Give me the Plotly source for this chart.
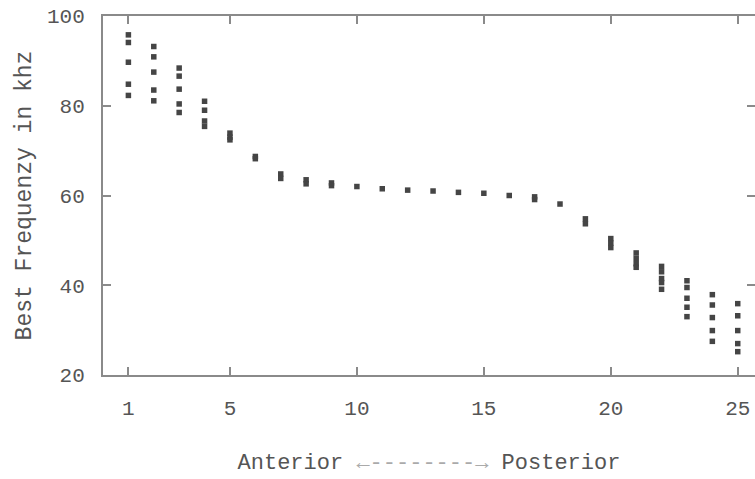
import plotly.graph_objects as go

# Position along the cochlea (anterior -> posterior) and best frequencies (kHz)
positions = list(range(1, 26))
best_freq = [
    [95.8, 94.1, 89.7, 84.8, 82.3],        # 1
    [93.2, 90.9, 87.5, 83.5, 81.1],        # 2
    [88.4, 86.6, 83.7, 80.4, 78.5],        # 3
    [81.0, 79.0, 76.6, 75.4],              # 4
    [73.9, 73.0, 72.4],                    # 5
    [68.7, 68.2],                          # 6
    [64.8, 63.8],                          # 7
    [63.5, 62.6],                          # 8
    [62.8, 62.2],                          # 9
    [62.0],                                # 10
    [61.5],                                # 11
    [61.2],                                # 12
    [61.0],                                # 13
    [60.7],                                # 14
    [60.5],                                # 15
    [60.0],                                # 16
    [59.7, 59.1],                          # 17
    [58.1],                                # 18
    [54.8, 53.7],                          # 19
    [50.4, 49.4, 48.4],                    # 20
    [47.2, 46.0, 44.8, 44.0],              # 21
    [44.2, 43.0, 41.5, 40.6, 39.1],        # 22
    [41.0, 39.5, 37.1, 35.1, 33.0],        # 23
    [37.9, 35.6, 32.8, 29.9, 27.5],        # 24
    [35.9, 33.2, 29.9, 27.0, 25.2],        # 25
]
x_ticks = [1, 5, 10, 15, 20, 25]
y_ticks = [20, 40, 60, 80, 100]

xs, ys = [], []
for p, vals in zip(positions, best_freq):
    for v in vals:
        xs.append(p)
        ys.append(v)

FONT = "Liberation Mono"
AXIS_COLOR = "#8a8a8a"
TEXT_COLOR = "#555555"

fig = go.Figure(go.Scatter(
    x=xs, y=ys, mode="markers",
    marker=dict(symbol="square", size=5.5, color="#454545", line=dict(width=0)),
    showlegend=False,
))

fig.update_layout(
    width=755, height=479,
    margin=dict(l=103, r=0, t=16, b=104),
    paper_bgcolor="white", plot_bgcolor="white",
    font=dict(family=FONT, size=20, color=TEXT_COLOR),
    xaxis=dict(
        range=[0, 25.68], tickvals=x_ticks, ticktext=[str(t) for t in x_ticks],
        ticks="inside", ticklen=8, tickwidth=1.5, tickcolor=AXIS_COLOR,
        showline=True, linecolor=AXIS_COLOR, linewidth=2, mirror="ticks",
        showgrid=False, zeroline=False, automargin=False,
        tickfont=dict(family=FONT, size=21, color=TEXT_COLOR),
        ticklabelstandoff=13, ticklabeloverflow="allow",
        title=dict(
            text="Anterior <span style='color:#aaaaaa'>←--------→</span> Posterior",
            font=dict(family=FONT, size=22, color=TEXT_COLOR), standoff=33,
        ),
    ),
    yaxis=dict(
        range=[20, 100], tickvals=y_ticks, ticktext=[str(t) for t in y_ticks],
        ticks="inside", ticklen=8, tickwidth=1.5, tickcolor=AXIS_COLOR,
        showline=True, linecolor=AXIS_COLOR, linewidth=2, mirror="ticks",
        showgrid=False, zeroline=False, automargin=False,
        tickfont=dict(family=FONT, size=21, color=TEXT_COLOR),
        ticklabelstandoff=12, ticklabeloverflow="allow",
        title=dict(
            text="Best Frequenzy in khz",
            font=dict(family=FONT, size=23, color=TEXT_COLOR), standoff=9,
        ),
    ),
)

# remove the default 8px body margin so the figure fills the window exactly
fig.write_html(
    "out.html",
    config={"displayModeBar": False},
    post_script="document.body.style.margin='0px';",
)
